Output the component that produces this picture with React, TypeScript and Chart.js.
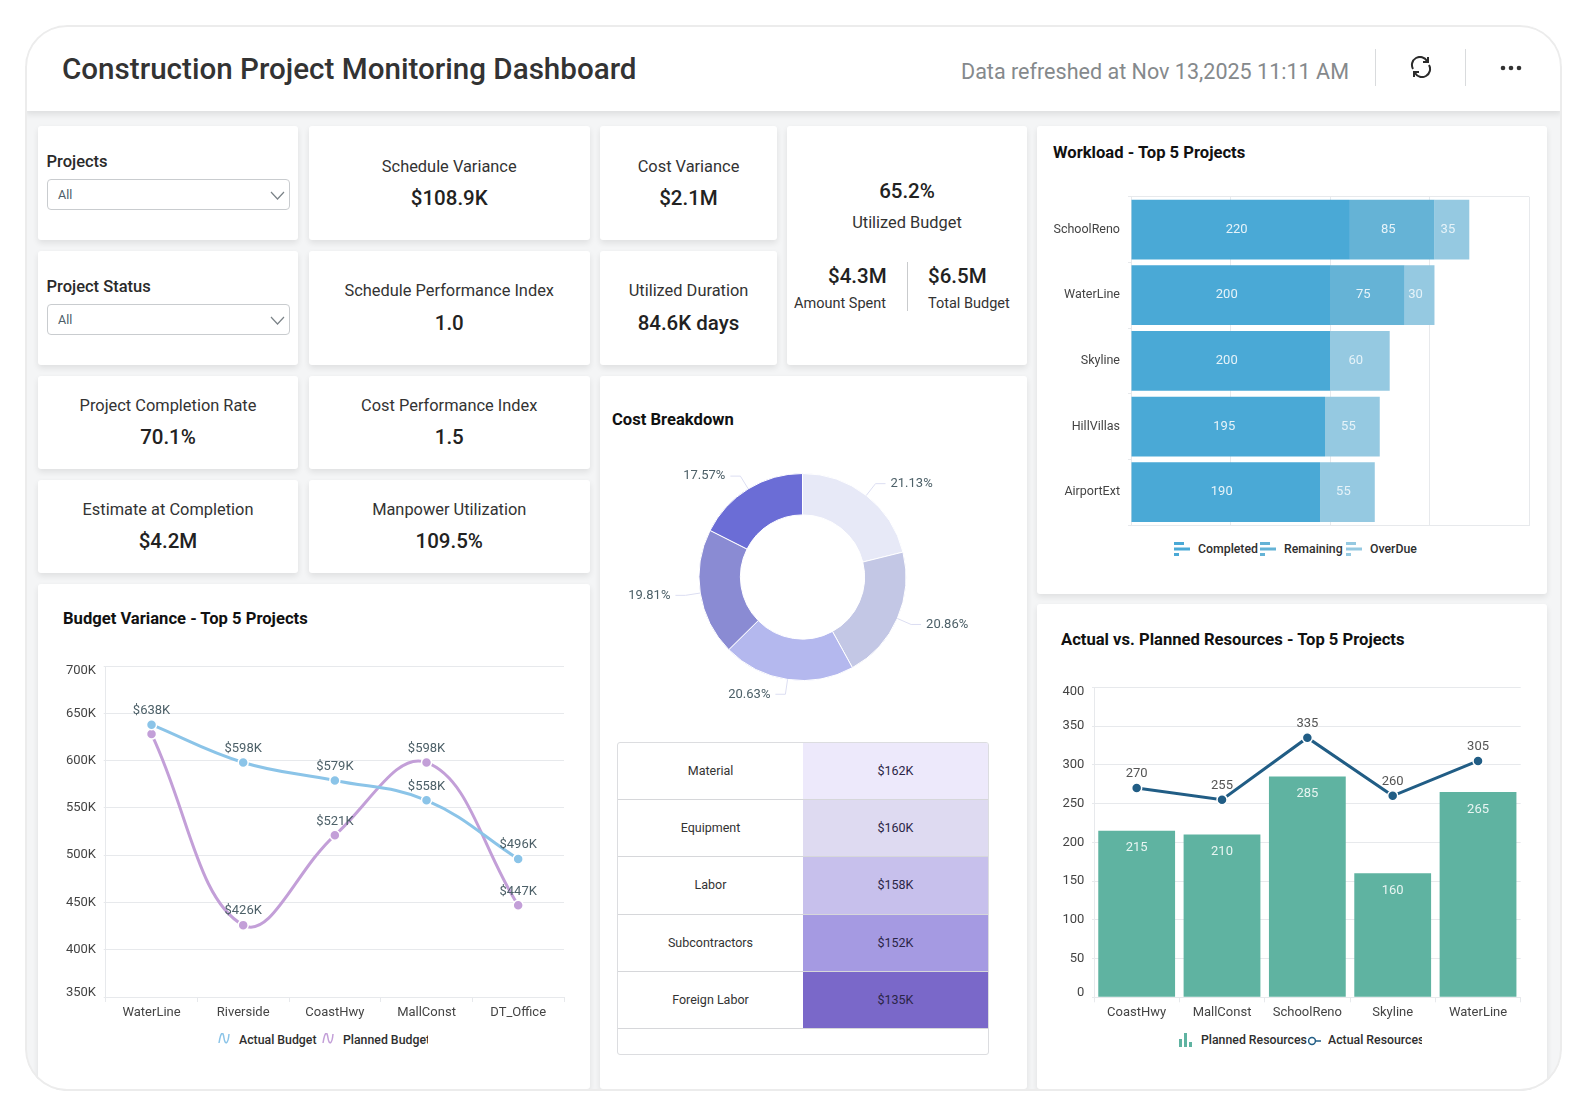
import React, { useEffect, useRef } from 'react';
import { Chart, registerables } from 'chart.js';

Chart.register(...registerables);

const FONT = 'Roboto, sans-serif';
const GRID = '#e7e9ec';

// Budget Variance
const budgetProjects = ['WaterLine', 'Riverside', 'CoastHwy', 'MallConst', 'DT_Office'];
const actualBudget = [638, 598, 579, 558, 496];
const plannedBudget = [628, 426, 521, 598, 447];
const budgetTicks = [350, 400, 450, 500, 550, 600, 650, 700];

// Workload
const workloadProjects = ['SchoolReno', 'WaterLine', 'Skyline', 'HillVillas', 'AirportExt'];
const completed = [220, 200, 200, 195, 190];
const remaining = [85, 75, null, null, null];
const overdue = [35, 30, 60, 55, 55];

// Resources
const resourceProjects = ['CoastHwy', 'MallConst', 'SchoolReno', 'Skyline', 'WaterLine'];
const plannedResources = [215, 210, 285, 160, 265];
const actualResources = [270, 255, 335, 260, 305];
const resourceTicks = [0, 50, 100, 150, 200, 250, 300, 350, 400];

// Cost breakdown
const costShares = [21.13, 20.86, 20.63, 19.81, 17.57];
const costColors = ['#e7e9f7', '#c3c7e5', '#b4b8ee', '#8a8bd3', '#6b6dd6'];
const costCategories = ['Material', 'Equipment', 'Labor', 'Subcontractors', 'Foreign Labor'];
const costAmounts = ['$162K', '$160K', '$158K', '$152K', '$135K'];
const costCellColors = ['#ede9fb', '#dedaf1', '#c7c0ec', '#a59ae2', '#7a68c9'];

// draws the numbers on bars and points, the library here has no datalabels
const valueLabels = {
  id: 'valueLabels',
  afterDatasetsDraw(chart: any, _args: any, opts: any) {
    const ctx = chart.ctx;
    chart.data.datasets.forEach((ds: any, i: number) => {
      const set = opts.sets[i];
      chart.getDatasetMeta(i).data.forEach((el: any, j: number) => {
        const text = ds.data[j] == null ? null : set.format(ds.data[j], j);
        if (!text) return;
        let x = el.x;
        let y = el.y;
        if (set.place === 'above') y -= 14;
        if (set.place === 'insideTop') y += 17.5;
        if (set.place === 'center') x = (el.x + el.base) / 2 - 4;
        ctx.save();
        ctx.font = `${set.size || 13}px ${FONT}`;
        ctx.fillStyle = set.color;
        ctx.textAlign = 'center';
        ctx.textBaseline = 'middle';
        ctx.fillText(text, x, y);
        ctx.restore();
      });
    });
  }
};

// the first and last y labels are pulled a few pixels inside the plot in the original,
// chart.js can't shift single tick labels so they are drawn here
const endTickLabels = {
  id: 'endTickLabels',
  afterDraw(chart: any, _args: any, opts: any) {
    const ctx = chart.ctx;
    const scale = chart.scales.y;
    [[scale.max, 4.5], [scale.min, -4.5]].forEach(([value, shift]) => {
      ctx.save();
      ctx.font = `13px ${FONT}`;
      ctx.fillStyle = '#444';
      ctx.textAlign = 'right';
      ctx.textBaseline = 'middle';
      ctx.fillText(`${value}${opts.suffix}`, scale.right - 9.7, scale.getPixelForValue(value) + shift);
      ctx.restore();
    });
  }
};

// percent labels with a small elbow line for the doughnut
const sliceLabels = {
  id: 'sliceLabels',
  afterDatasetsDraw(chart: any) {
    const ctx = chart.ctx;
    chart.getDatasetMeta(0).data.forEach((arc: any, i: number) => {
      const mid = (arc.startAngle + arc.endAngle) / 2;
      const x0 = arc.x + Math.cos(mid) * arc.outerRadius;
      const y0 = arc.y + Math.sin(mid) * arc.outerRadius;
      const x1 = x0 + Math.cos(mid) * 15;
      const y1 = y0 + Math.sin(mid) * 15;
      const right = Math.cos(mid) >= 0;
      const x2 = x1 + (right ? 10 : -10);
      ctx.save();
      ctx.strokeStyle = '#dcdef2';
      ctx.lineWidth = 1;
      ctx.beginPath();
      ctx.moveTo(x0, y0);
      ctx.lineTo(x1, y1);
      ctx.lineTo(x2, y1);
      ctx.stroke();
      ctx.font = `13px ${FONT}`;
      ctx.fillStyle = '#4d6068';
      ctx.textAlign = right ? 'left' : 'right';
      ctx.textBaseline = 'middle';
      ctx.fillText(`${costShares[i].toFixed(2)}%`, x2 + (right ? 5 : -5), y1);
      ctx.restore();
    });
  }
};

const edgeOnly = (ctx: any) =>
  ctx.index === 0 || ctx.index === ctx.chart.scales[ctx.scale.id].ticks.length ? GRID : 'transparent';

// fixed axis size, and no room kept for half-labels, so the plot area lands where it should
const fixSize = (prop: string, size: number) => (s: any) => {
  s[prop] = size;
  s.paddingLeft = s.paddingRight = s.paddingTop = s.paddingBottom = 0;
};

const tickFont = { family: FONT, size: 13 };

const budgetConfig = (): any => ({
  type: 'line',
  data: {
    labels: budgetProjects,
    datasets: [
      { label: 'Actual Budget', data: actualBudget, borderColor: '#8bc4e8', pointBackgroundColor: '#8bc4e8' },
      { label: 'Planned Budget', data: plannedBudget, borderColor: '#c39fd8', pointBackgroundColor: '#c39fd8' }
    ].map(d => ({ ...d, tension: 0.4, borderWidth: 3, pointRadius: 5, pointBorderColor: '#fff', pointBorderWidth: 1.5 }))
  },
  options: {
    animation: false,
    responsive: false,
    layout: { padding: { top: 16, right: 26, left: 0, bottom: 0 } },
    scales: {
      x: {
        offset: true,
        afterFit: fixSize('height', 28),
        grid: { color: edgeOnly, tickColor: GRID, tickLength: 5, offset: true },
        border: { color: GRID },
        ticks: { font: tickFont, color: '#444', padding: 3, maxRotation: 0 }
      },
      y: {
        min: 350,
        max: 700,
        afterBuildTicks: (s: any) => { s.ticks = budgetTicks.map(value => ({ value })); },
        afterFit: fixSize('width', 67.7),
        grid: { color: GRID, tickLength: 2 },
        border: { color: GRID },
        ticks: {
          font: tickFont,
          color: '#444',
          padding: 7.7,
          callback: (v: any) => (v === 350 || v === 700 ? '' : `${v}K`)
        }
      }
    },
    plugins: {
      legend: { display: false },
      tooltip: { enabled: false },
      endTickLabels: { suffix: 'K' },
      valueLabels: {
        sets: [
          { place: 'above', color: '#4d6068', format: (v: number) => `$${v}K` },
          { place: 'above', color: '#4d6068', format: (v: number, j: number) => (j === 0 ? null : `$${v}K`) }
        ]
      }
    }
  },
  plugins: [valueLabels, endTickLabels]
});

const workloadConfig = (): any => ({
  type: 'bar',
  data: {
    labels: workloadProjects,
    datasets: [
      { label: 'Completed', data: completed, backgroundColor: '#4aa9d6' },
      { label: 'Remaining', data: remaining, backgroundColor: '#65b3d6' },
      { label: 'OverDue', data: overdue, backgroundColor: '#95c9e1' }
    ].map(d => ({ ...d, categoryPercentage: 0.91, barPercentage: 1 }))
  },
  options: {
    indexAxis: 'y',
    animation: false,
    responsive: false,
    layout: { padding: { top: 11.7, right: 18, left: 0, bottom: 0 } },
    scales: {
      x: {
        stacked: true,
        min: 0,
        max: 400,
        afterFit: fixSize('height', 5),
        grid: { color: GRID, drawTicks: false },
        border: { color: GRID },
        ticks: { display: false, stepSize: 100 }
      },
      y: {
        stacked: true,
        afterFit: fixSize('width', 94),
        grid: { color: edgeOnly, tickColor: GRID, tickLength: 3 },
        border: { color: GRID },
        ticks: { font: { family: FONT, size: 12.5 }, color: '#444', padding: 8 }
      }
    },
    plugins: {
      legend: { display: false },
      tooltip: { enabled: false },
      valueLabels: {
        sets: [0, 1, 2].map(() => ({ place: 'center', color: '#e6f3f9', format: (v: number) => `${v}` }))
      }
    }
  },
  plugins: [valueLabels]
});

const resourceConfig = (): any => ({
  type: 'bar',
  data: {
    labels: resourceProjects,
    datasets: [
      {
        type: 'line',
        label: 'Actual Resources',
        data: actualResources,
        borderColor: '#215d85',
        borderWidth: 3,
        tension: 0,
        pointRadius: 5,
        pointBackgroundColor: '#215d85',
        pointBorderColor: '#fff',
        pointBorderWidth: 1.5
      },
      {
        label: 'Planned Resources',
        data: plannedResources,
        backgroundColor: '#5fb3a1',
        categoryPercentage: 0.9,
        barPercentage: 1
      }
    ]
  },
  options: {
    animation: false,
    responsive: false,
    layout: { padding: { top: 15.3, right: 26.3, left: 0, bottom: 0 } },
    scales: {
      x: {
        afterFit: fixSize('height', 27.7),
        grid: { color: edgeOnly, tickColor: GRID, tickLength: 5 },
        border: { color: GRID },
        ticks: { font: tickFont, color: '#444', padding: 3, maxRotation: 0 }
      },
      y: {
        min: 0,
        max: 400,
        afterBuildTicks: (s: any) => { s.ticks = resourceTicks.map(value => ({ value })); },
        afterFit: fixSize('width', 57),
        grid: { color: GRID, tickLength: 2 },
        border: { color: GRID },
        ticks: {
          font: tickFont,
          color: '#444',
          padding: 7.7,
          callback: (v: any) => (v === 0 || v === 400 ? '' : `${v}`)
        }
      }
    },
    plugins: {
      legend: { display: false },
      tooltip: { enabled: false },
      endTickLabels: { suffix: '' },
      valueLabels: {
        sets: [
          { place: 'above', color: '#555', format: (v: number) => `${v}` },
          { place: 'insideTop', color: '#e8f5f2', format: (v: number) => `${v}` }
        ]
      }
    }
  },
  plugins: [valueLabels, endTickLabels]
});

const costConfig = (): any => ({
  type: 'doughnut',
  data: {
    labels: costCategories,
    datasets: [{ data: costShares, backgroundColor: costColors, borderColor: '#fff', borderWidth: 1 }]
  },
  options: {
    animation: false,
    responsive: false,
    cutout: '60%',
    layout: { padding: { top: 36, bottom: 36 } },
    plugins: { legend: { display: false }, tooltip: { enabled: false } }
  },
  plugins: [sliceLabels]
});

function ChartCanvas({ left, top, width, height, config }: any) {
  const ref = useRef<HTMLCanvasElement>(null);

  useEffect(() => {
    const chart = new Chart(ref.current as HTMLCanvasElement, config());
    return () => chart.destroy();
  }, []);

  return <canvas ref={ref} width={width} height={height} style={{ position: 'absolute', left, top, width, height }} />;
}

function Card({ x, y, r, b, children }: any) {
  return (
    <div style={{
      position: 'absolute', left: x, top: y, width: r - x, height: b - y,
      background: '#fff', borderRadius: 3, boxShadow: '0 3px 6px rgba(0,0,0,0.09)'
    }}>
      {children}
    </div>
  );
}

// one line of text, centred vertically on y
function Text({ x, y, w, align = 'left', size = 16, weight = 400, color = '#333', children }: any) {
  return (
    <div style={{
      position: 'absolute', left: x, top: y - 15, width: w, height: 30, lineHeight: '30px',
      textAlign: align, fontSize: size, fontWeight: weight, color, whiteSpace: 'nowrap', overflow: w ? 'hidden' : 'visible'
    }}>
      {children}
    </div>
  );
}

function Kpi({ x, y, r, b, titleY, valueY, title, value }: any) {
  return (
    <>
      <Card x={x} y={y} r={r} b={b} />
      <Text x={x} y={titleY} w={r - x} align="center" size={16.4}>{title}</Text>
      <Text x={x} y={valueY} w={r - x} align="center" size={20.5} weight={500} color="#222">{value}</Text>
    </>
  );
}

function Filter({ y, label }: any) {
  return (
    <>
      <Card x={38} y={y} r={298} b={y + 114} />
      <Text x={46.5} y={y + 36} size={16.5} weight={500} color="#2a2a2a">{label}</Text>
      <div style={{
        position: 'absolute', left: 47, top: y + 53, width: 243, height: 31, boxSizing: 'border-box',
        border: '1px solid #c9cccf', borderRadius: 4, background: '#fff'
      }} />
      <Text x={58} y={y + 68.5} size={12.5} color="#4d6068">All</Text>
      <svg style={{ position: 'absolute', left: 270, top: y + 65 }} width="15" height="9">
        <path d="M1 1 L7.5 8 L14 1" fill="none" stroke="#7b8388" strokeWidth="1.2" />
      </svg>
    </>
  );
}

function BarsIcon({ x, y, color }: any) {
  return (
    <svg style={{ position: 'absolute', left: x, top: y - 7 }} width="16" height="14">
      <rect x="0" y="0" width="10" height="3" fill={color} />
      <rect x="0" y="5.5" width="16" height="3" fill={color} />
      <rect x="0" y="11" width="5" height="3" fill={color} />
    </svg>
  );
}

function CurveIcon({ x, y, color }: any) {
  return (
    <svg style={{ position: 'absolute', left: x, top: y - 6 }} width="12" height="12">
      <path d="M1 10 C3 -2 5 -2 6 5 C7 12 10 12 11 1" fill="none" stroke={color} strokeWidth="1.5" />
    </svg>
  );
}

const LegendText = ({ x, y, w, children }: any) => (
  <Text x={x} y={y} w={w} size={12.3} weight={500} color="#2e2e2e">{children}</Text>
);

export default function App() {
  return (
    <div style={{ position: 'relative', width: 1586, height: 1112, overflow: 'hidden', background: '#fff', fontFamily: FONT }}>
      <style>{'body{margin:0;background:#fff}'}</style>

      <div style={{ position: 'absolute', inset: 0, clipPath: 'inset(25px 24px 21px 25px round 42px)' }}>
        <div style={{ position: 'absolute', left: 25, top: 25, width: 1537, height: 1066, background: '#f4f5f6', overflow: 'hidden' }}>
          <div style={{ position: 'absolute', left: 0, top: 0, right: 0, height: 86, background: '#fff', boxShadow: '0 3px 7px rgba(0,0,0,0.1)' }} />
        </div>

        <Text x={62} y={69} size={29.6} weight={500} color="#333">Construction Project Monitoring Dashboard</Text>
        <Text x={961} y={71.5} size={21.55} color="#85898c">Data refreshed at Nov 13,2025 11:11 AM</Text>
        <div style={{ position: 'absolute', left: 1375, top: 49, width: 1, height: 37, background: '#d9dbdd' }} />
        <div style={{ position: 'absolute', left: 1465, top: 49, width: 1, height: 37, background: '#d9dbdd' }} />
        <svg style={{ position: 'absolute', left: 1410, top: 56 }} width="22" height="22" viewBox="0 0 22 22">
          <path d="M3 13 A8 8 0 0 1 17 5 M19 9 A8 8 0 0 1 5 17" fill="none" stroke="#2b2b2b" strokeWidth="2" />
          <path d="M18 1 L18 6 L13 6 M4 21 L4 16 L9 16" fill="none" stroke="#2b2b2b" strokeWidth="2" />
        </svg>
        <svg style={{ position: 'absolute', left: 1499, top: 64 }} width="24" height="8">
          <circle cx="4" cy="4" r="2.3" fill="#333" />
          <circle cx="12" cy="4" r="2.3" fill="#333" />
          <circle cx="20" cy="4" r="2.3" fill="#333" />
        </svg>

        <Filter y={126} label="Projects" />
        <Filter y={251} label="Project Status" />

        <Kpi x={308.5} y={126} r={590} b={240} titleY={167} valueY={197.7} title="Schedule Variance" value="$108.9K" />
        <Kpi x={600} y={126} r={777} b={240} titleY={167} valueY={197.7} title="Cost Variance" value="$2.1M" />
        <Kpi x={308.5} y={251} r={590} b={365} titleY={291} valueY={322.7} title="Schedule Performance Index" value="1.0" />
        <Kpi x={600} y={251} r={777} b={365} titleY={291} valueY={322.7} title="Utilized Duration" value="84.6K days" />
        <Kpi x={38} y={376} r={298} b={469} titleY={405.6} valueY={437} title="Project Completion Rate" value="70.1%" />
        <Kpi x={308.5} y={376} r={590} b={469} titleY={405.6} valueY={437} title="Cost Performance Index" value="1.5" />
        <Kpi x={38} y={479.5} r={298} b={572.5} titleY={510} valueY={541} title="Estimate at Completion" value="$4.2M" />
        <Kpi x={308.5} y={479.5} r={590} b={572.5} titleY={510} valueY={541} title="Manpower Utilization" value="109.5%" />

        <Card x={787} y={126} r={1027} b={365} />
        <Text x={787} y={190.7} w={240} align="center" size={20.5} weight={500} color="#222">65.2%</Text>
        <Text x={787} y={223} w={240} align="center" size={16.4}>Utilized Budget</Text>
        <Text x={828} y={275.7} size={20.5} weight={500} color="#222">$4.3M</Text>
        <Text x={794} y={304} size={14.5}>Amount Spent</Text>
        <div style={{ position: 'absolute', left: 907, top: 262, width: 1, height: 49, background: '#c9cbcd' }} />
        <Text x={928} y={275.7} size={20.5} weight={500} color="#222">$6.5M</Text>
        <Text x={928} y={304} size={14.5}>Total Budget</Text>

        <Card x={1037} y={126} r={1547} b={594} />
        <Text x={1053} y={153} size={16.6} weight={700} color="#111">Workload - Top 5 Projects</Text>
        <ChartCanvas left={1037} top={185} width={510} height={345} config={workloadConfig} />
        <BarsIcon x={1173.5} y={549} color="#4aa9d6" />
        <LegendText x={1198} y={548.7}>Completed</LegendText>
        <BarsIcon x={1260} y={549} color="#65b3d6" />
        <LegendText x={1284} y={548.7}>Remaining</LegendText>
        <BarsIcon x={1346} y={549} color="#95c9e1" />
        <LegendText x={1370} y={548.7}>OverDue</LegendText>

        <Card x={600} y={376} r={1027} b={1089} />
        <Text x={612} y={420} size={16.6} weight={700} color="#111">Cost Breakdown</Text>
        <ChartCanvas left={600} top={436.5} width={405} height={280} config={costConfig} />
        <div style={{
          position: 'absolute', left: 617, top: 742, width: 372, height: 313, boxSizing: 'border-box',
          border: '1px solid #dcdde0', borderRadius: 3, overflow: 'hidden'
        }}>
          {costCategories.map((name, i) => (
            <div key={name} style={{ display: 'flex', height: 57.2, boxSizing: 'border-box', borderBottom: '1px solid #d6d7da', fontSize: 12.5, lineHeight: '56px', textAlign: 'center' }}>
              <div style={{ width: 185, color: '#333' }}>{name}</div>
              <div style={{ flex: 1, color: '#2a2546', background: costCellColors[i] }}>{costAmounts[i]}</div>
            </div>
          ))}
        </div>

        <Card x={38} y={583.5} r={590} b={1089} />
        <Text x={63} y={619} size={16.6} weight={700} color="#111">Budget Variance - Top 5 Projects</Text>
        <ChartCanvas left={38} top={650} width={552} height={375} config={budgetConfig} />
        <CurveIcon x={217.5} y={1039} color="#8bc4e8" />
        <LegendText x={239} y={1040}>Actual Budget</LegendText>
        <CurveIcon x={322} y={1039} color="#c39fd8" />
        <LegendText x={343} y={1040} w={85}>Planned Budget</LegendText>

        <Card x={1037} y={604} r={1547} b={1089} />
        <Text x={1061} y={640} size={16.6} weight={700} color="#111">Actual vs. Planned Resources - Top 5 Projects</Text>
        <ChartCanvas left={1037} top={672} width={510} height={353} config={resourceConfig} />
        <svg style={{ position: 'absolute', left: 1179, top: 1033 }} width="13" height="14">
          <rect x="0" y="6" width="3" height="8" fill="#5fb3a1" />
          <rect x="5" y="0" width="3" height="14" fill="#5fb3a1" />
          <rect x="10" y="9" width="3" height="5" fill="#5fb3a1" />
        </svg>
        <LegendText x={1201} y={1040}>Planned Resources</LegendText>
        <svg style={{ position: 'absolute', left: 1307, top: 1036 }} width="14" height="10">
          <path d="M8 5 L14 5" stroke="#215d85" strokeWidth="1.5" />
          <circle cx="5" cy="5" r="3.4" fill="#fff" stroke="#215d85" strokeWidth="1.5" />
        </svg>
        <LegendText x={1328} y={1040} w={94}>Actual Resources</LegendText>

        <div style={{
          position: 'absolute', left: 25, top: 25, width: 1537, height: 1066, boxSizing: 'border-box',
          border: '2px solid #ececec', borderRadius: 42
        }} />
      </div>
    </div>
  );
}
